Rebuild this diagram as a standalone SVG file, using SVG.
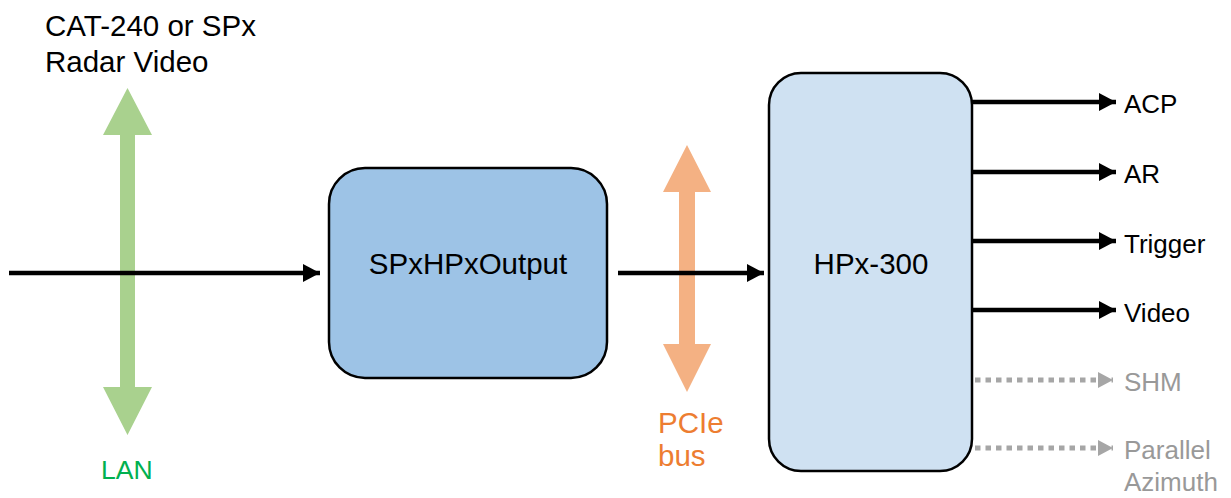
<svg xmlns="http://www.w3.org/2000/svg" width="1231" height="498" viewBox="0 0 1231 498">
<style>
  .lbl { font-family: "Liberation Sans", Arial, sans-serif; font-size: 29.5px; fill: #000; }
  .out { font-family: "Liberation Sans", Arial, sans-serif; font-size: 26px; fill: #000; }
  .gout { font-family: "Liberation Sans", Arial, sans-serif; font-size: 26px; fill: #999; }
  .box { stroke: #000; stroke-width: 2.5; }
  .blk { stroke: #000; stroke-width: 4.5; fill: none; }
  .gry { stroke: #A6A6A6; stroke-width: 5; fill: none; stroke-dasharray: 5.5 5; }
</style>
<defs>
  <marker id="ah" markerUnits="userSpaceOnUse" markerWidth="18" markerHeight="18" refX="17" refY="9" orient="auto">
    <path d="M0,0 L17,9 L0,18 Z" fill="#000"/>
  </marker>
  <marker id="ahg" markerUnits="userSpaceOnUse" markerWidth="16" markerHeight="16" refX="15" refY="8" orient="auto">
    <path d="M0,0 L15,8 L0,16 Z" fill="#A6A6A6"/>
  </marker>
</defs>
<rect width="1231" height="498" fill="#fff"/>

<g id="lan-bus">
  <polygon points="127.5,88 152,135 135,135 135,387 152,387 127.5,435 103,387 120,387 120,135 103,135" fill="#A9D18E"/>
  <text x="45" y="36" class="lbl">CAT-240 or SPx</text>
  <text x="45" y="72" class="lbl">Radar Video</text>
  <text x="101" y="479" class="lbl" style="font-size:26.5px;fill:#00B050">LAN</text>
</g>

<g id="pcie-bus">
  <polygon points="687,145 711,192 695,192 695,344 711,344 687,392 663,344 679,344 679,192 663,192" fill="#F4B183"/>
  <text x="658" y="433" class="lbl" style="fill:#ED7D31">PCIe</text>
  <text x="658" y="466" class="lbl" style="fill:#ED7D31">bus</text>
</g>

<g id="connectors">
  <line x1="9" y1="273" x2="320" y2="273" class="blk" marker-end="url(#ah)"/>
  <line x1="618" y1="273" x2="764" y2="273" class="blk" marker-end="url(#ah)"/>
  <line x1="972" y1="102" x2="1116" y2="102" class="blk" marker-end="url(#ah)"/>
  <line x1="972" y1="172" x2="1116" y2="172" class="blk" marker-end="url(#ah)"/>
  <line x1="972" y1="241" x2="1116" y2="241" class="blk" marker-end="url(#ah)"/>
  <line x1="972" y1="310" x2="1116" y2="310" class="blk" marker-end="url(#ah)"/>
  <line x1="975" y1="380" x2="1113" y2="380" class="gry" marker-end="url(#ahg)"/>
  <line x1="975" y1="448" x2="1113" y2="448" class="gry" marker-end="url(#ahg)"/>
</g>

<g id="spxhpxoutput">
  <rect x="329" y="168" width="278" height="210" rx="36" ry="36" fill="#9DC3E6" class="box"/>
  <text x="468" y="274" text-anchor="middle" class="lbl">SPxHPxOutput</text>
</g>

<g id="hpx300">
  <rect x="769" y="73" width="203" height="398" rx="32" ry="32" fill="#CFE1F2" class="box"/>
  <text x="871" y="274" text-anchor="middle" class="lbl">HPx-300</text>
</g>

<g id="outputs">
  <text x="1124" y="113" class="out">ACP</text>
  <text x="1124" y="183" class="out">AR</text>
  <text x="1124" y="253" class="out">Trigger</text>
  <text x="1124" y="322" class="out">Video</text>
  <text x="1124" y="391" class="gout">SHM</text>
  <text x="1124" y="459" class="gout">Parallel</text>
  <text x="1124" y="491" class="gout">Azimuth</text>
</g>
</svg>
